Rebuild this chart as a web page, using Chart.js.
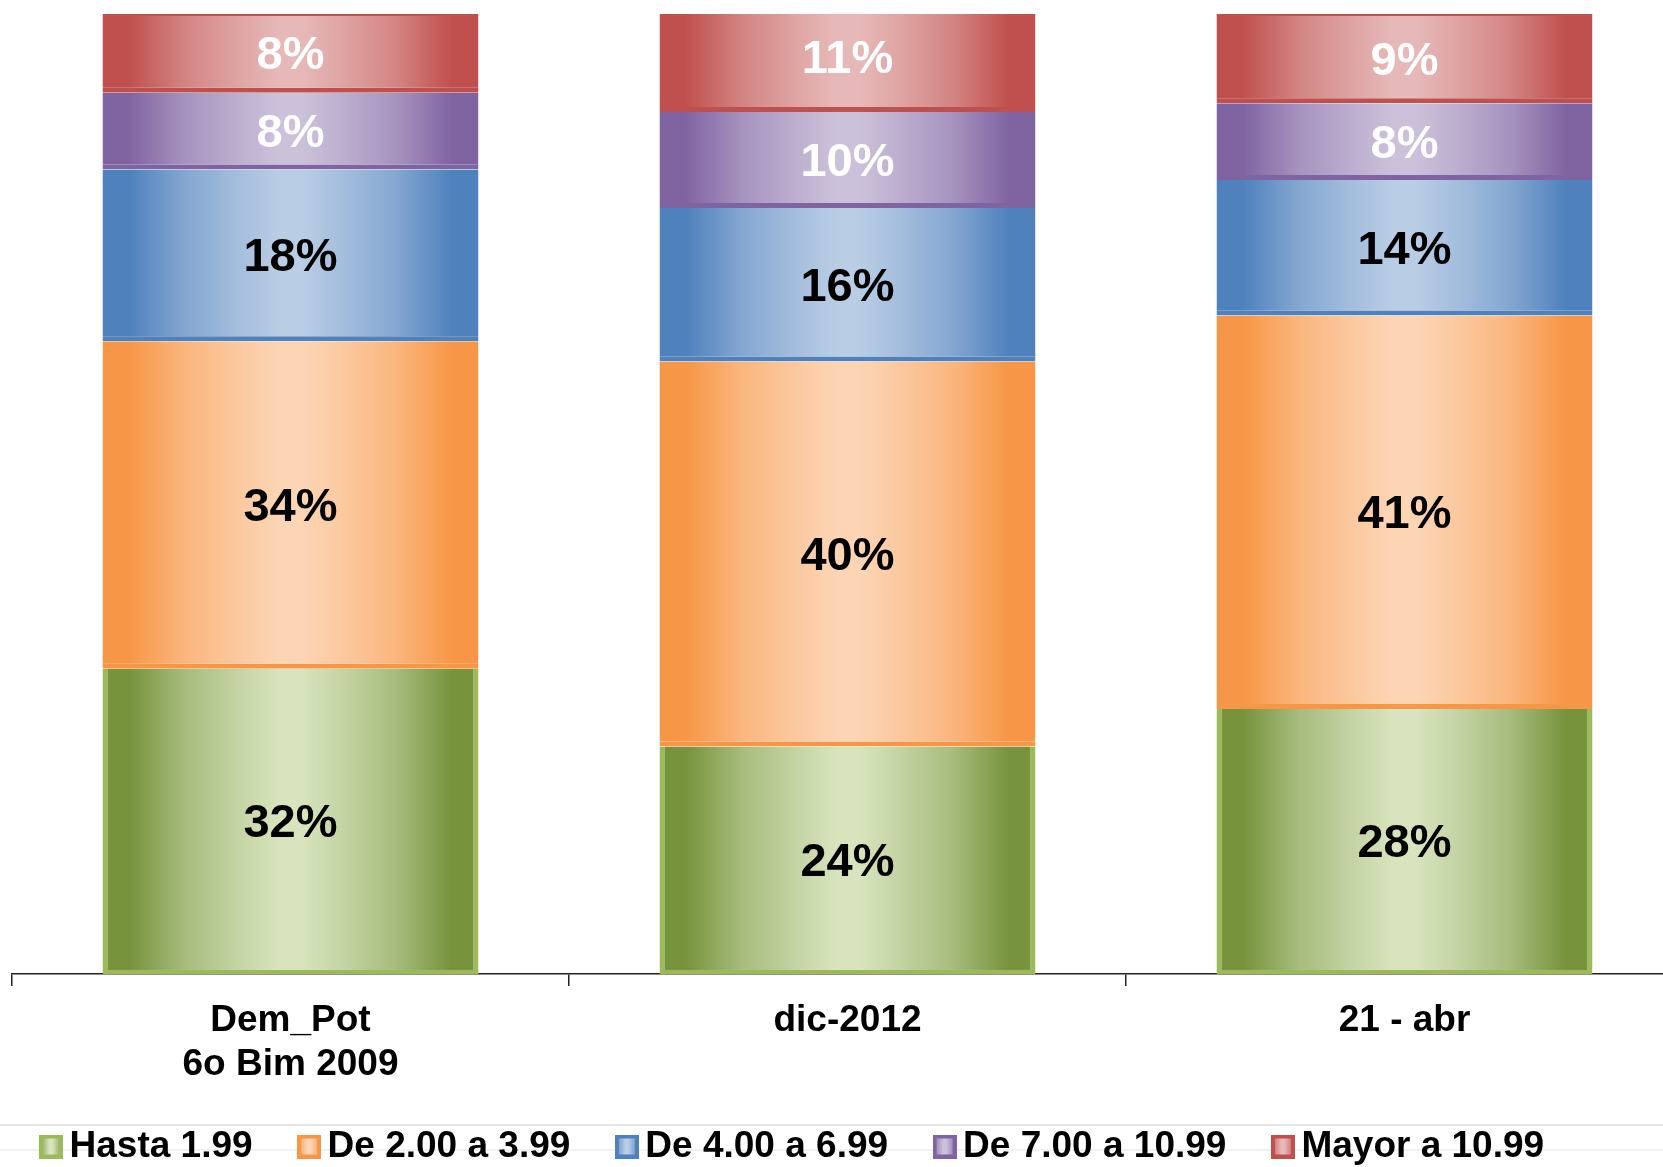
<!DOCTYPE html>
<html>
<head>
<meta charset="utf-8">
<script src="https://cdn.jsdelivr.net/npm/chart.js@4.4.1/dist/chart.umd.min.js"></script>
<style>
html,body{margin:0;padding:0;overflow:hidden;background:#ffffff;}
#wrap{position:relative;width:1663px;height:1167px;overflow:hidden;background:#fff;}
canvas{display:block;}
</style>
</head>
<body>
<div id="wrap"><canvas id="c" width="1683" height="1189"></canvas></div>
<script>
// ---- data ----
const categories = [["Dem_Pot", "6o Bim 2009"], "dic-2012", "21 - abr"];
const seriesNames = ["Hasta 1.99", "De 2.00 a 3.99", "De 4.00 a 6.99", "De 7.00 a 10.99", "Mayor a 10.99"];
const hasta199   = [31.8, 23.7, 27.6];
const de200a399  = [34.1, 40.1, 41.0];
const de400a699  = [17.9, 16.0, 14.1];
const de700a1099 = [8.0, 10.0, 8.0];
const mayor1099  = [8.2, 11.4, 9.3];
const seriesValues = [hasta199, de200a399, de400a699, de700a1099, mayor1099];

// ---- styles ----
const baseColors   = ['#77933C', '#F79646', '#4F81BD', '#8064A2', '#C0504D'];
const lightColors  = ['#D7E4BD', '#FCD5B5', '#B9CDE5', '#CCC1DA', '#E6B9B8'];
const borderColors = ['#9BBB59', '#F79646', '#4F81BD', '#8064A2', '#C0504D'];
const labelColors  = ['#000000', '#000000', '#000000', '#FFFFFF', '#FFFFFF'];
const BAR_PCT = 0.675;
const FONT = '"Liberation Sans", Arial, sans-serif';
Chart.defaults.font.family = FONT;

function hexToRgb(h) { const n = parseInt(h.slice(1), 16); return [(n >> 16) & 255, (n >> 8) & 255, n & 255]; }
function mix(a, b, t) {
  const A = hexToRgb(a), B = hexToRgb(b);
  return 'rgb(' + A.map((v, i) => Math.round(v + (B[i] - v) * t)).join(',') + ')';
}
const STOPS = [[0, 0], [0.07, 0], [0.22, 0.5], [0.37, 0.82], [0.47, 1], [0.53, 1], [0.63, 0.82], [0.78, 0.5], [0.93, 0], [1, 0]];

function barFill(si) {
  return (ctx) => {
    const chart = ctx.chart, xs = chart.scales && chart.scales.x;
    if (ctx.type !== 'data' || !xs || !isFinite(xs.width) || xs.width <= 0) return baseColors[si];
    const cx = xs.getPixelForValue(ctx.dataIndex);
    const w = xs.width / categories.length * BAR_PCT;
    const g = chart.ctx.createLinearGradient(cx - w / 2, 0, cx + w / 2, 0);
    STOPS.forEach(([p, t]) => g.addColorStop(p, mix(baseColors[si], lightColors[si], t)));
    return g;
  };
}

function makeSwatch(i) {
  const cv = document.createElement('canvas');
  cv.width = 24; cv.height = 24;
  const g = cv.getContext('2d');
  g.fillStyle = borderColors[i];
  g.fillRect(0, 0, 24, 24);
  const gr = g.createLinearGradient(4, 0, 20, 0);
  gr.addColorStop(0, mix(baseColors[i], lightColors[i], 0.45));
  gr.addColorStop(0.4, lightColors[i]);
  gr.addColorStop(0.6, lightColors[i]);
  gr.addColorStop(1, mix(baseColors[i], lightColors[i], 0.45));
  g.fillStyle = gr;
  g.fillRect(4, 4, 16, 16);
  return cv;
}
const swatches = seriesNames.map((_, i) => makeSwatch(i));

const bgLines = {
  id: 'bgLines',
  beforeDraw(chart) {
    const c = chart.ctx;
    c.save();
    c.strokeStyle = '#dedede'; c.lineWidth = 1.5;
    c.beginPath(); c.moveTo(0, 1125); c.lineTo(chart.width, 1125); c.stroke();
    c.strokeStyle = '#f1f1f1'; c.lineWidth = 2;
    c.beginPath(); c.moveTo(0, 1150); c.lineTo(chart.width, 1150); c.stroke();
    c.restore();
  }
};

// place the legend row where the reference has it
const legendShift = {
  id: 'legendShift',
  afterLayout(chart) {
    const L = chart.legend;
    if (L) { L.left -= 17.5; L.right -= 17.5; L.top -= 14; L.bottom -= 14; }
  }
};

const dataLabels = {
  id: 'dataLabels',
  afterDatasetsDraw(chart) {
    const c = chart.ctx;
    c.save();
    c.font = 'bold 47px ' + FONT;
    c.textAlign = 'center';
    c.textBaseline = 'middle';
    chart.data.datasets.forEach((ds, di) => {
      const meta = chart.getDatasetMeta(di);
      meta.data.forEach((el, i) => {
        const p = el.getProps(['x', 'y', 'base'], true);
        c.fillStyle = labelColors[di];
        c.fillText(Math.round(ds.data[i]) + '%', p.x, (p.y + p.base) / 2 + 3);
      });
    });
    c.restore();
  }
};

new Chart(document.getElementById('c'), {
  type: 'bar',
  data: {
    labels: categories,
    datasets: seriesValues.map((vals, si) => ({
      label: seriesNames[si],
      data: vals,
      backgroundColor: barFill(si),
      borderColor: borderColors[si],
      borderWidth: si === 0 ? {top: 0, left: 5, right: 5, bottom: 4}
                 : (si === 4 ? {top: 2, left: 0, right: 0, bottom: 5} : {top: 0, left: 0, right: 0, bottom: 5}),
      borderSkipped: false,
      barPercentage: BAR_PCT,
      categoryPercentage: 1,
      clip: 0
    }))
  },
  options: {
    responsive: false,
    animation: false,
    devicePixelRatio: 1,
    layout: { padding: { left: 12, right: 0, top: 14, bottom: 0 } },
    scales: {
      x: {
        stacked: true,
        z: 1,
        offset: true,
        grid: { display: true, drawOnChartArea: false, drawTicks: true, tickLength: 12, color: '#222222', lineWidth: 1.5, offset: true },
        border: { display: true, color: '#222222', width: 1.5 },
        ticks: { color: '#000000', padding: 13, maxRotation: 0, autoSkip: false,
                 font: { size: 37, weight: 'bold', lineHeight: 1.19 } },
        afterFit: (s) => { s.height = 111.5; }
      },
      y: { stacked: true, display: false, min: 0, max: 100 }
    },
    plugins: {
      tooltip: { enabled: false },
      legend: {
        position: 'bottom',
        align: 'start',
        labels: {
          usePointStyle: true,
          boxWidth: 0.01,
          padding: 56.5,
          color: '#000000',
          font: { size: 37, weight: 'bold' },
          generateLabels: () => seriesNames.map((n, i) => ({
            text: n, fillStyle: baseColors[i], strokeStyle: borderColors[i], lineWidth: 0,
            pointStyle: swatches[i], hidden: false, datasetIndex: i, fontColor: '#000000'
          }))
        }
      }
    }
  },
  plugins: [bgLines, legendShift, dataLabels]
});
</script>
</body>
</html>
